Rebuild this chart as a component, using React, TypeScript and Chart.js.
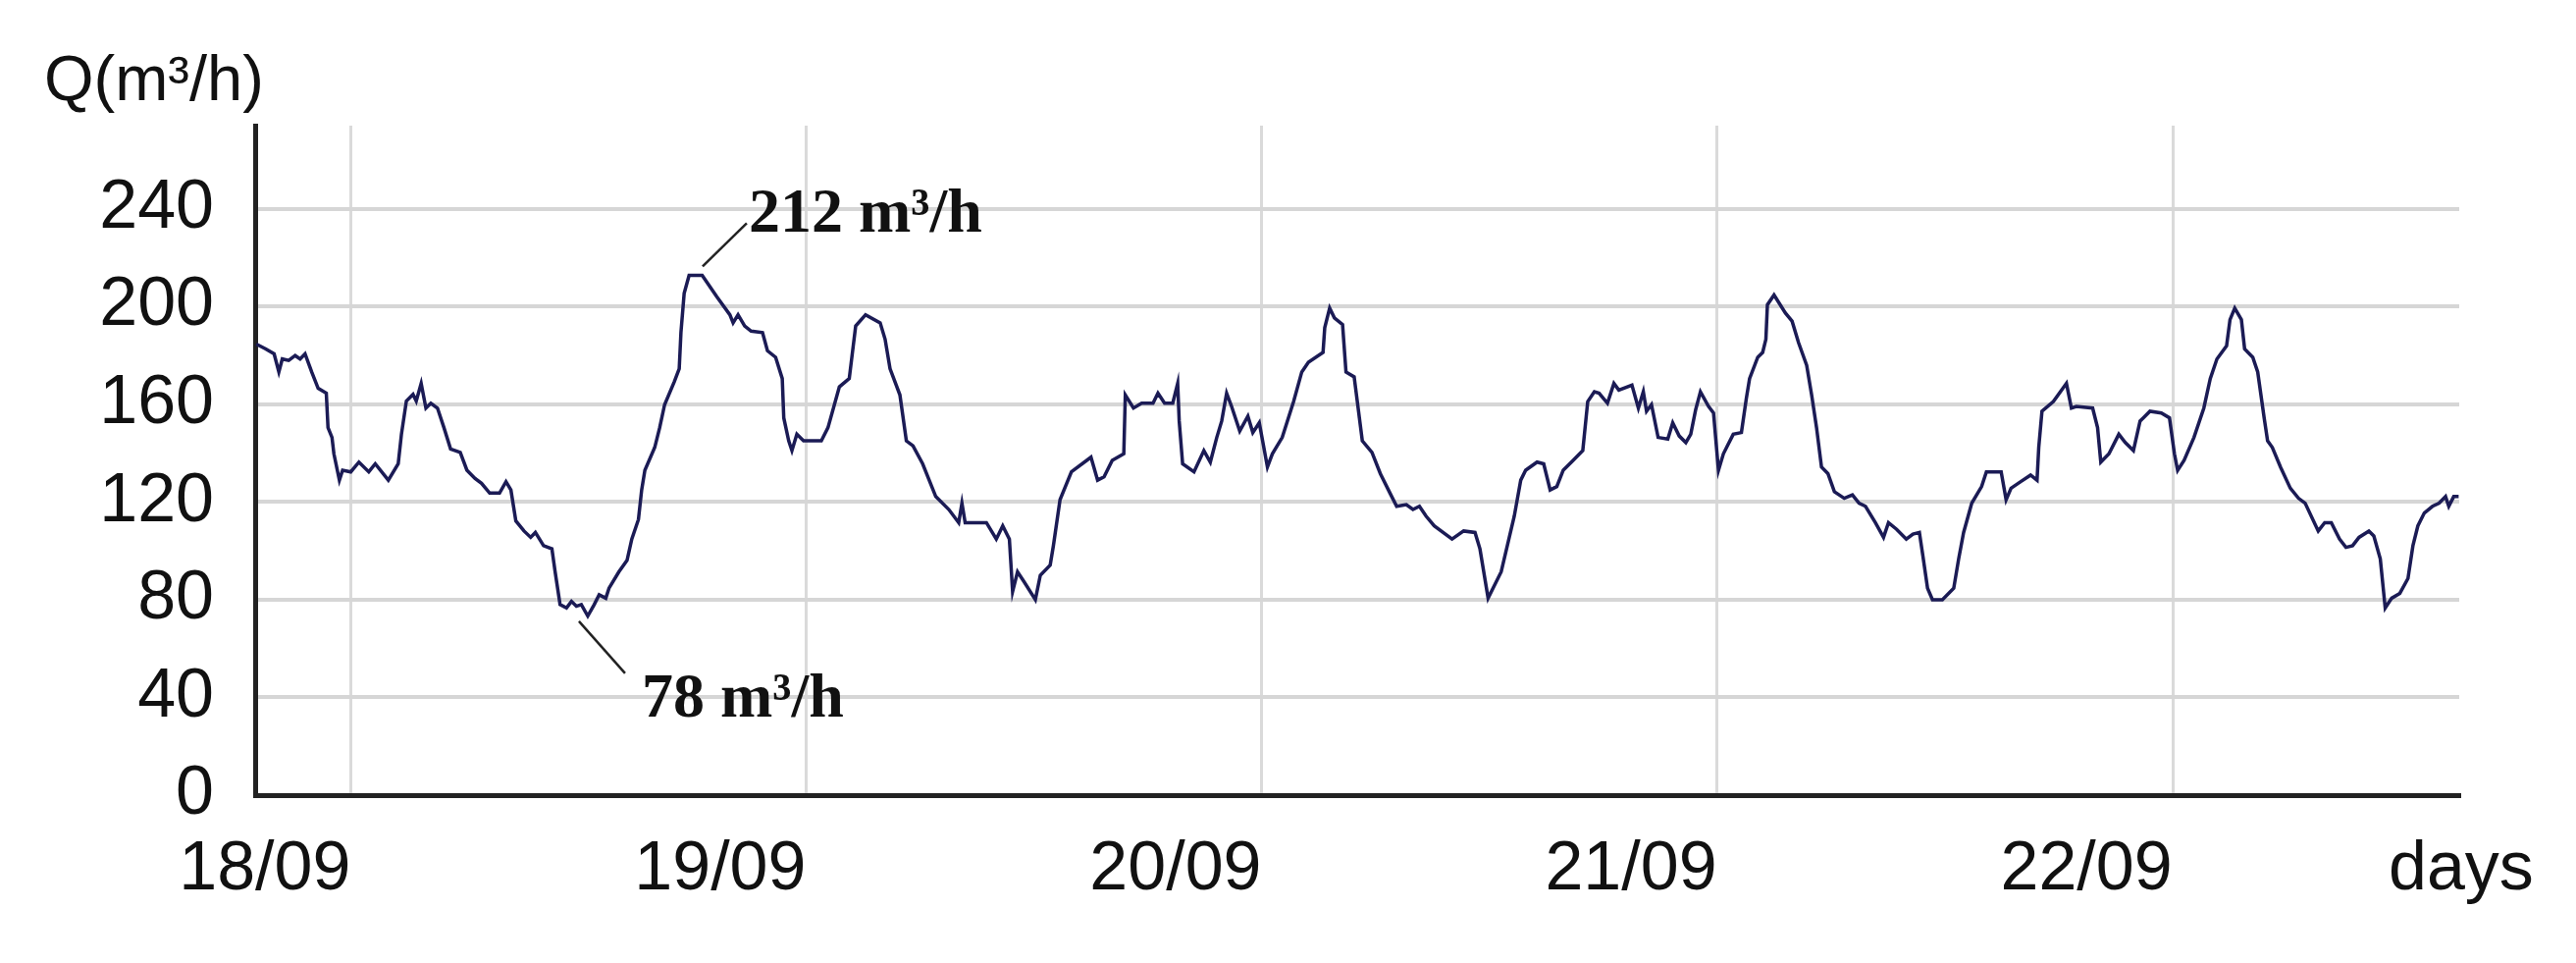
import React, { useEffect, useRef } from 'react';
import { Chart, registerables } from 'chart.js';

Chart.register(...registerables);

// Time in hours since the 19/09 gridline; flow in m³/h
const hours = [
  -5.0, -4.5, -4.06, -3.81, -3.63, -3.29, -2.95, -2.69, -2.43, -2.08, -1.74, -1.31, -1.22, -1.01, -0.91,
  -0.62, -0.45, -0.02, 0.41, 0.93, 1.27, 1.96, 2.48, 2.65, 2.91, 3.26, 3.43, 3.69, 3.94, 4.2, 4.55, 4.89,
  5.24, 5.75, 6.1, 6.53, 6.87, 7.3, 7.82, 8.16, 8.42, 8.68, 9.11, 9.46, 9.71, 10.14, 10.58, 10.75, 11.01,
  11.35, 11.61, 11.87, 12.13, 12.47, 12.81, 13.07, 13.42, 13.59, 14.11, 14.54, 14.79, 15.14, 15.31, 15.48,
  16.0, 16.26, 16.52, 17.03, 17.29, 17.38, 17.55, 17.81, 18.5,
  19.27, 19.96, 20.13, 20.39, 20.74, 21.08, 21.68, 21.94, 22.37, 22.72, 22.8, 23.06, 23.23, 23.49, 23.84,
  24.78, 25.13, 25.73, 26.25, 26.59, 27.11, 27.88, 28.14, 28.4, 28.92, 29.26, 29.61, 30.12, 30.81, 31.5,
  32.02, 32.19, 32.36, 33.48, 34.0, 34.34, 34.69, 34.86, 35.12, 35.46, 36.06, 36.32, 36.84, 37.01, 37.36,
  37.96, 38.99, 39.34, 39.68, 40.11, 40.72, 40.8,
  41.23, 41.66, 42.26, 42.52, 42.87, 43.3, 43.56, 43.64, 43.82, 44.42, 44.94, 45.28, 45.62, 45.88, 46.14,
  46.4, 46.83, 47.26, 47.52, 47.86, 48.29, 48.55, 49.07, 49.67, 50.1, 50.45, 51.22, 51.31, 51.57, 51.82,
  52.25, 52.43, 52.86, 53.29, 53.8, 54.24, 54.75, 55.1, 55.61, 55.96, 56.3, 56.65, 57.08, 58.02, 58.63,
  59.23, 59.49, 59.92, 60.61, 61.3, 61.64, 61.9, 62.5, 62.85, 63.19, 63.54, 63.88, 64.4, 64.91, 65.17,
  65.52, 65.77,
  66.21, 66.55, 66.81, 67.5, 67.84, 68.1, 68.27, 68.53, 68.88, 69.39, 69.65, 69.99, 70.34, 70.6, 70.86,
  71.11, 71.54, 71.8, 72.06, 72.32, 72.49, 72.84, 73.27, 73.53, 73.7, 74.13, 74.39, 74.56, 74.64, 74.99,
  75.59, 75.94, 76.28, 76.71, 76.97, 77.23, 77.49, 77.83, 78.17, 78.69, 79.12, 79.47, 79.81, 80.33, 80.76,
  81.02, 81.45, 81.96, 82.31, 82.65, 82.83, 83.08, 83.34, 83.86, 84.46, 84.72, 84.98, 85.41, 85.93, 86.18,
  86.96, 87.22, 87.48, 87.99, 88.51,
  88.85, 88.94, 89.11, 89.71, 90.4, 90.66, 90.92, 91.78, 92.04, 92.21, 92.64, 93.16, 93.5, 93.93, 94.28,
  94.45, 94.8, 95.4, 95.83, 96.09, 96.26, 96.6, 97.12, 97.64, 97.98, 98.33, 98.84, 99.02, 99.27, 99.62,
  99.79, 100.22, 100.48, 100.82, 101.0, 101.25, 101.68, 102.2, 102.63, 102.98, 103.67, 104.01, 104.36,
  104.79, 105.13, 105.48, 105.82, 106.34, 106.6, 106.94, 107.2, 107.54, 107.97, 108.4, 108.66, 108.92,
  109.26, 109.69, 110.04, 110.38, 110.55, 110.81, 111.07,
];

const flow = [
  184.6, 182.6, 180.6, 173.2, 178.5, 177.9, 179.9, 178.5, 180.6, 173.2, 166.5, 164.5, 150.4, 146.4, 139.7,
  128.9, 133.0, 132.3, 136.3, 132.3, 135.6, 128.9, 135.6, 147.7, 161.3, 164.0, 161.3, 168.5, 158.4, 160.4,
  158.4, 150.4, 141.7, 140.3, 133.0, 129.6, 127.6, 123.6, 123.6, 128.3, 124.9, 112.2, 108.1, 105.5, 107.5,
  102.1, 100.8, 91.4, 78.0, 76.6, 79.3, 77.3, 78.0, 73.3, 78.0, 82.0, 80.6, 84.7, 91.4, 96.1, 104.8, 112.8,
  124.9, 133.0, 142.3, 150.4, 159.8, 169.2, 174.5, 189.3, 205.4, 212.7, 212.7,
  204.0, 196.6, 193.3, 196.6, 192.0, 189.9, 189.3, 181.9, 179.2, 170.5, 154.4, 145.0, 141.0, 147.7, 145.0,
  145.0, 150.4, 167.1, 170.5, 192.0, 196.6, 193.3, 186.6, 174.5, 163.8, 145.0, 143.0, 135.6, 122.2, 116.9,
  111.5, 119.5, 111.5, 111.5, 104.8, 110.2, 104.8, 83.3, 91.4, 87.4, 80.0, 90.0, 94.1, 102.1, 120.9, 132.3,
  138.3, 128.9, 130.3, 137.0, 139.7, 163.8,
  158.4, 160.4, 160.4, 164.5, 160.4, 160.4, 168.5, 153.1, 135.6, 132.3, 141.0, 136.3, 146.4, 153.1, 164.5,
  159.1, 149.0, 155.1, 148.4, 152.4, 134.3, 139.7, 146.4, 161.1, 173.2, 177.2, 181.2, 191.3, 199.3, 195.3,
  192.6, 173.2, 171.2, 145.0, 140.3, 131.6, 123.6, 118.2, 118.9, 116.9, 118.2, 114.2, 110.2, 104.8, 108.1,
  107.5, 100.8, 80.6, 91.4, 114.2, 128.9, 133.0, 136.3, 135.6, 124.9, 126.3, 133.0, 137.0, 141.0, 161.1,
  165.1, 164.5,
  160.4, 168.5, 165.8, 167.8, 158.4, 165.1, 157.1, 159.8, 146.4, 145.7, 152.4, 147.0, 144.3, 147.7, 157.8,
  165.1, 159.1, 156.4, 132.9, 139.7, 142.3, 147.7, 148.4, 162.4, 170.5, 179.2, 181.2, 186.6, 200.7, 204.7,
  197.3, 194.0, 185.2, 175.9, 163.8, 150.4, 134.3, 131.6, 124.2, 121.5, 122.9, 119.5, 118.2, 111.5, 105.5,
  111.5, 108.8, 104.8, 106.8, 107.5, 98.1, 84.7, 80.0, 80.0, 84.7, 96.7, 107.5, 119.5, 126.3, 132.3,
  132.3, 120.9, 125.6, 128.3, 131.0,
  128.9, 142.3, 157.1, 161.1, 168.5, 158.4, 159.1, 158.4, 150.4, 136.3, 139.7, 147.7, 144.3, 141.0, 153.1,
  154.4, 157.1, 156.4, 154.4, 139.7, 132.9, 137.0, 146.4, 158.4, 170.5, 178.5, 183.9, 194.6, 199.3, 194.6,
  182.6, 179.2, 173.2, 154.4, 145.0, 142.3, 134.3, 125.6, 121.5, 119.5, 108.1, 111.5, 111.5, 104.8, 101.4,
  102.1, 105.5, 108.1, 106.1, 96.7, 76.6, 80.6, 82.6, 88.7, 102.1, 110.2, 115.5, 118.2, 119.5, 122.2,
  118.2, 122.2, 122.2,
];

const dayTicks = [0, 24, 48, 72, 96];
const dayLabels = ['18/09', '19/09', '20/09', '21/09', '22/09'];
const yTicks = [0, 40, 80, 120, 160, 200, 240];
const yTitle = 'Q(m³/h)';
const xTitle = 'days';
const peakLabel = '212 m³/h';
const peakAt = [17.9, 212];
const troughLabel = '78 m³/h';
const troughAt = [12.47, 78];

const SANS = '"Liberation Sans", Arial, sans-serif';
const SERIF = '"Liberation Serif", "Times New Roman", serif';

export default function App() {
  const ref = useRef<HTMLCanvasElement>(null);

  useEffect(() => {
    if (!ref.current) return;
    const points = hours.map((h, i) => ({ x: h, y: flow[i] }));

    const annotations = {
      id: 'annotations',
      afterDraw(chart: any) {
        const { ctx, chartArea } = chart;
        const xs = chart.scales.x;
        const ys = chart.scales.y;
        ctx.save();
        ctx.strokeStyle = '#222';
        ctx.fillStyle = '#111';
        ctx.lineWidth = 2.5;
        ctx.textAlign = 'left';

        // peak annotation
        const px = xs.getPixelForValue(peakAt[0]);
        const py = ys.getPixelForValue(peakAt[1]);
        ctx.beginPath();
        ctx.moveTo(px + 12, py - 11);
        ctx.lineTo(px + 57, py - 55);
        ctx.stroke();
        ctx.font = `bold 64px ${SERIF}`;
        ctx.textBaseline = 'alphabetic';
        ctx.fillText(peakLabel, px + 59, py - 46);

        // trough annotation
        const tx = xs.getPixelForValue(troughAt[0]);
        const ty = ys.getPixelForValue(troughAt[1]);
        ctx.beginPath();
        ctx.moveTo(tx - 9, ty + 17);
        ctx.lineTo(tx + 38, ty + 70);
        ctx.stroke();
        ctx.fillText(troughLabel, tx + 55, ty + 114);

        // y axis title
        ctx.font = `65px ${SANS}`;
        ctx.fillText(yTitle, chartArea.left - 215, chartArea.top - 26);

        // x axis title
        ctx.font = `70px ${SANS}`;
        ctx.textBaseline = 'middle';
        ctx.fillText(xTitle, chartArea.right - 72, chartArea.bottom + 77);
        ctx.restore();
      },
    };

    const chart = new Chart(ref.current, {
      type: 'line',
      data: {
        datasets: [
          {
            data: points,
            borderColor: '#1b1b55',
            borderWidth: 3.5,
            pointRadius: 0,
            tension: 0,
            fill: false,
          },
        ],
      },
      options: {
        animation: false,
        responsive: false,
        maintainAspectRatio: false,
        devicePixelRatio: 1,
        parsing: false,
        layout: { padding: { left: 0, right: 119, top: 128, bottom: 0 } },
        plugins: { legend: { display: false }, tooltip: { enabled: false }, title: { display: false } },
        scales: {
          x: {
            type: 'linear',
            min: -5.06,
            max: 111.1,
            afterBuildTicks: (s: any) => {
              s.ticks = dayTicks.map((v) => ({ value: v }));
            },
            afterFit: (s: any) => {
              s.height = 171;
            },
            ticks: {
              callback: (v: any) => dayLabels[dayTicks.indexOf(Number(v))] ?? '',
              font: { family: SANS, size: 70 },
              color: '#111',
              labelOffset: -88,
              padding: 35,
              maxRotation: 0,
              autoSkip: false,
            },
            grid: { color: '#dadada', lineWidth: 3, drawTicks: false },
            border: { color: '#222', width: 5 },
          },
          y: {
            type: 'linear',
            min: 0,
            max: 274,
            afterBuildTicks: (s: any) => {
              s.ticks = yTicks.map((v) => ({ value: v }));
            },
            afterFit: (s: any) => {
              s.width = 260;
            },
            ticks: {
              callback: (v: any) => String(v),
              font: { family: SANS, size: 70 },
              color: '#111',
              padding: 42,
            },
            grid: { color: '#d6d6d6', lineWidth: 4, drawTicks: false },
            border: { color: '#222', width: 5 },
          },
        },
      },
      plugins: [annotations],
    });

    return () => chart.destroy();
  }, []);

  return (
    <div style={{ position: 'fixed', left: 0, top: 0, width: 2625, height: 981, background: '#fff' }}>
      <canvas ref={ref} width={2625} height={981} style={{ width: 2625, height: 981, display: 'block' }} />
    </div>
  );
}
